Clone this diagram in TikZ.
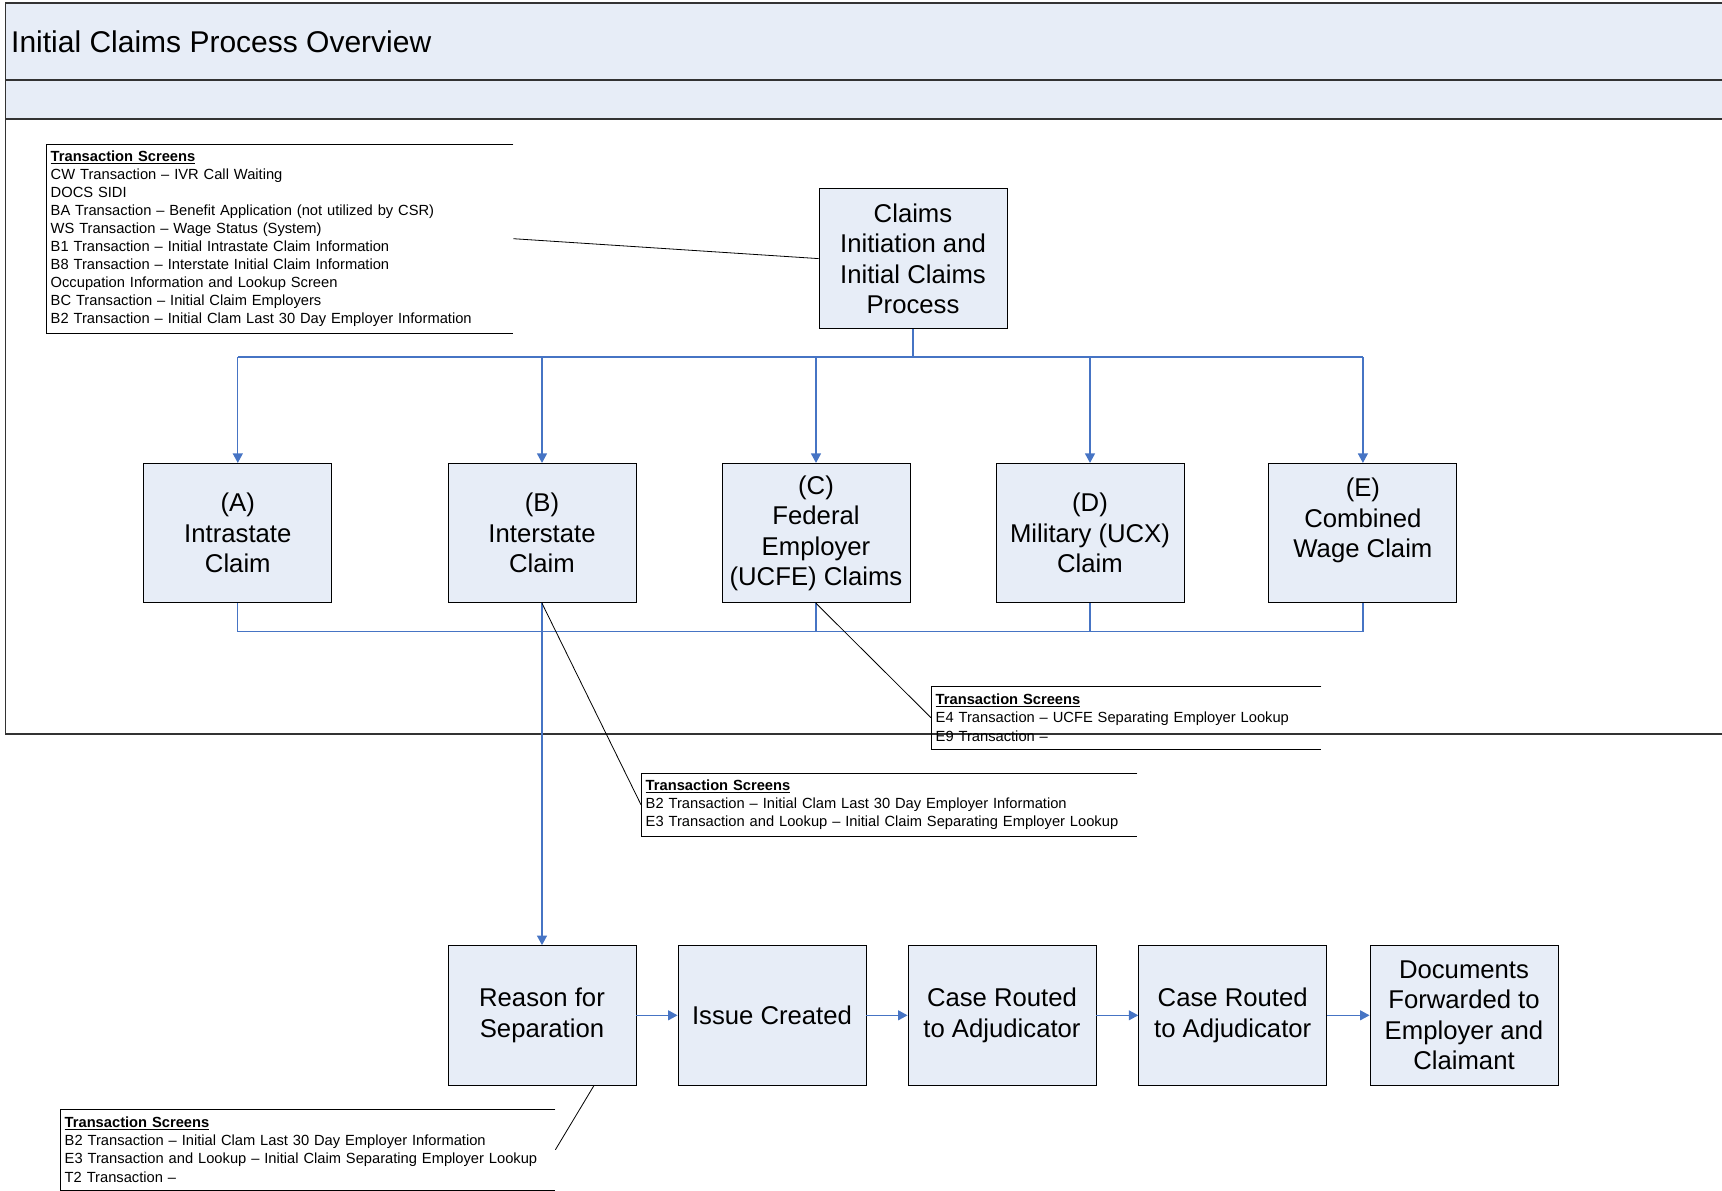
\documentclass[tikz,border=0pt]{standalone}
\usepackage{fontspec}
\setmainfont{Liberation Sans}
\usetikzlibrary{arrows.meta}

\definecolor{boxfill}{HTML}{E7EDF7}
\definecolor{flowblue}{HTML}{4674C4}
\definecolor{poolgrey}{HTML}{333333}

\begin{document}
\begin{tikzpicture}[x=1pt,y=-1pt,
  procbox/.style={draw=black, line width=0.9pt, fill=boxfill,
    minimum width=188pt, minimum height=139.5pt, inner sep=0pt,
    align=center, font=\fontsize{25.7}{30.5}\selectfont},
  annot/.style={anchor=north west, align=left, inner xsep=4.5pt, inner ysep=0pt,
    font=\fontsize{14.7}{18.05}\selectfont},
  annline/.style={draw=black, line width=0.8pt},
  poolline/.style={draw=poolgrey, line width=1.8pt},
  flowline/.style={draw=flowblue, line width=1.2pt},
  flowarrow/.style={flowline, -{Triangle[length=9.5pt,width=10pt]}},
  callout/.style={draw=black, line width=0.8pt}
]
\useasboundingbox (0,0) rectangle (1722,1191);

% swimlane header and body
\fill[boxfill] (5.5,3) rectangle (1730,118.6);
\draw[poolline] (1730,3) -- (5.5,3) -- (5.5,733.6) -- (1730,733.6);
\draw[poolline] (5.5,80) -- (1730,80);
\draw[poolline] (5.5,118.6) -- (1730,118.6);
\node[anchor=west, inner sep=0pt, font=\fontsize{30}{36}\selectfont] (title) at (11,41.5) {Initial Claims Process Overview};

% process boxes
\node[procbox] (claims) at (913,258.6) {Claims\\Initiation and\\Initial Claims\\Process};

\node[procbox] (A) at (237.8,533.1) {(A)\\Intrastate\\Claim};
\node[procbox] (B) at (542,533.1) {(B)\\Interstate\\Claim};
\node[procbox] (C) at (816,533.1) {(C)\\Federal\\Employer\\(UCFE) Claims};
\node[procbox] (D) at (1090,533.1) {(D)\\Military (UCX)\\Claim};
\node[procbox] (E) at (1362.9,533.1) {(E)\\Combined\\Wage Claim\\~};

\node[procbox] (reason) at (542,1015.3) {Reason for\\Separation};
\node[procbox] (issue) at (772,1015.3) {Issue Created};
\node[procbox] (route1) at (1002,1015.3) {Case Routed\\to Adjudicator};
\node[procbox] (route2) at (1232.7,1015.3) {Case Routed\\to Adjudicator};
\node[procbox] (docs) at (1464,1015.3) {Documents\\Forwarded to\\Employer and\\Claimant};

% transaction screen notes
\node[annot, text width=458pt, minimum height=189pt] (tTop) at (46,144) {%
\underline{\textbf{Transaction Screens}}\\
CW Transaction – IVR Call Waiting\\
DOCS SIDI\\
BA Transaction – Benefit Application (not utilized by CSR)\\
WS Transaction – Wage Status (System)\\
B1 Transaction – Initial Intrastate Claim Information\\
B8 Transaction – Interstate Initial Claim Information\\
Occupation Information and Lookup Screen\\
BC Transaction – Initial Claim Employers\\
B2 Transaction – Initial Clam Last 30 Day Employer Information};

\node[annot, text width=381pt, minimum height=63pt] (tC) at (931,686) {%
\underline{\textbf{Transaction Screens}}\\
E4 Transaction – UCFE Separating Employer Lookup\\
E9 Transaction –};

\node[annot, text width=487pt, minimum height=63pt] (tB) at (641,773) {%
\underline{\textbf{Transaction Screens}}\\
B2 Transaction – Initial Clam Last 30 Day Employer Information\\
E3 Transaction and Lookup – Initial Claim Separating Employer Lookup};

\node[annot, text width=486pt, minimum height=81pt] (tR) at (60,1109) {%
\underline{\textbf{Transaction Screens}}\\
B2 Transaction – Initial Clam Last 30 Day Employer Information\\
E3 Transaction and Lookup – Initial Claim Separating Employer Lookup\\
T2 Transaction –};

\foreach \n in {tTop,tC,tB,tR}
  \draw[annline] (\n.north east) -- (\n.north west) -- (\n.south west) -- (\n.south east);

% flow connectors
\coordinate (bus) at (913,357);
\coordinate (lowbus) at (913,631.5);
\draw[flowline] (claims.south) -- (claims.south |- bus);
\draw[flowline] (A.north |- bus) -- (E.north |- bus);
\foreach \b in {A,B,C,D,E}
  \draw[flowarrow] (\b.north |- bus) -- (\b.north);
\draw[flowline] (A.south |- lowbus) -- (E.south |- lowbus);
\foreach \b in {A,C,D,E}
  \draw[flowline] (\b.south) -- (\b.south |- lowbus);
\draw[flowarrow] (B.south) -- (reason.north);
\draw[flowarrow] (reason.east) -- (issue.west);
\draw[flowarrow] (issue.east) -- (route1.west);
\draw[flowarrow] (route1.east) -- (route2.west);
\draw[flowarrow] (route2.east) -- (docs.west);

% note callouts
\draw[callout] (tTop.east) -- (claims.west);
\draw[callout] (B.south) -- (tB.west);
\draw[callout] (C.south) -- (tC.west);
\draw[callout] ([xshift=52pt]reason.south) -- (tR.east);
\end{tikzpicture}
\end{document}
